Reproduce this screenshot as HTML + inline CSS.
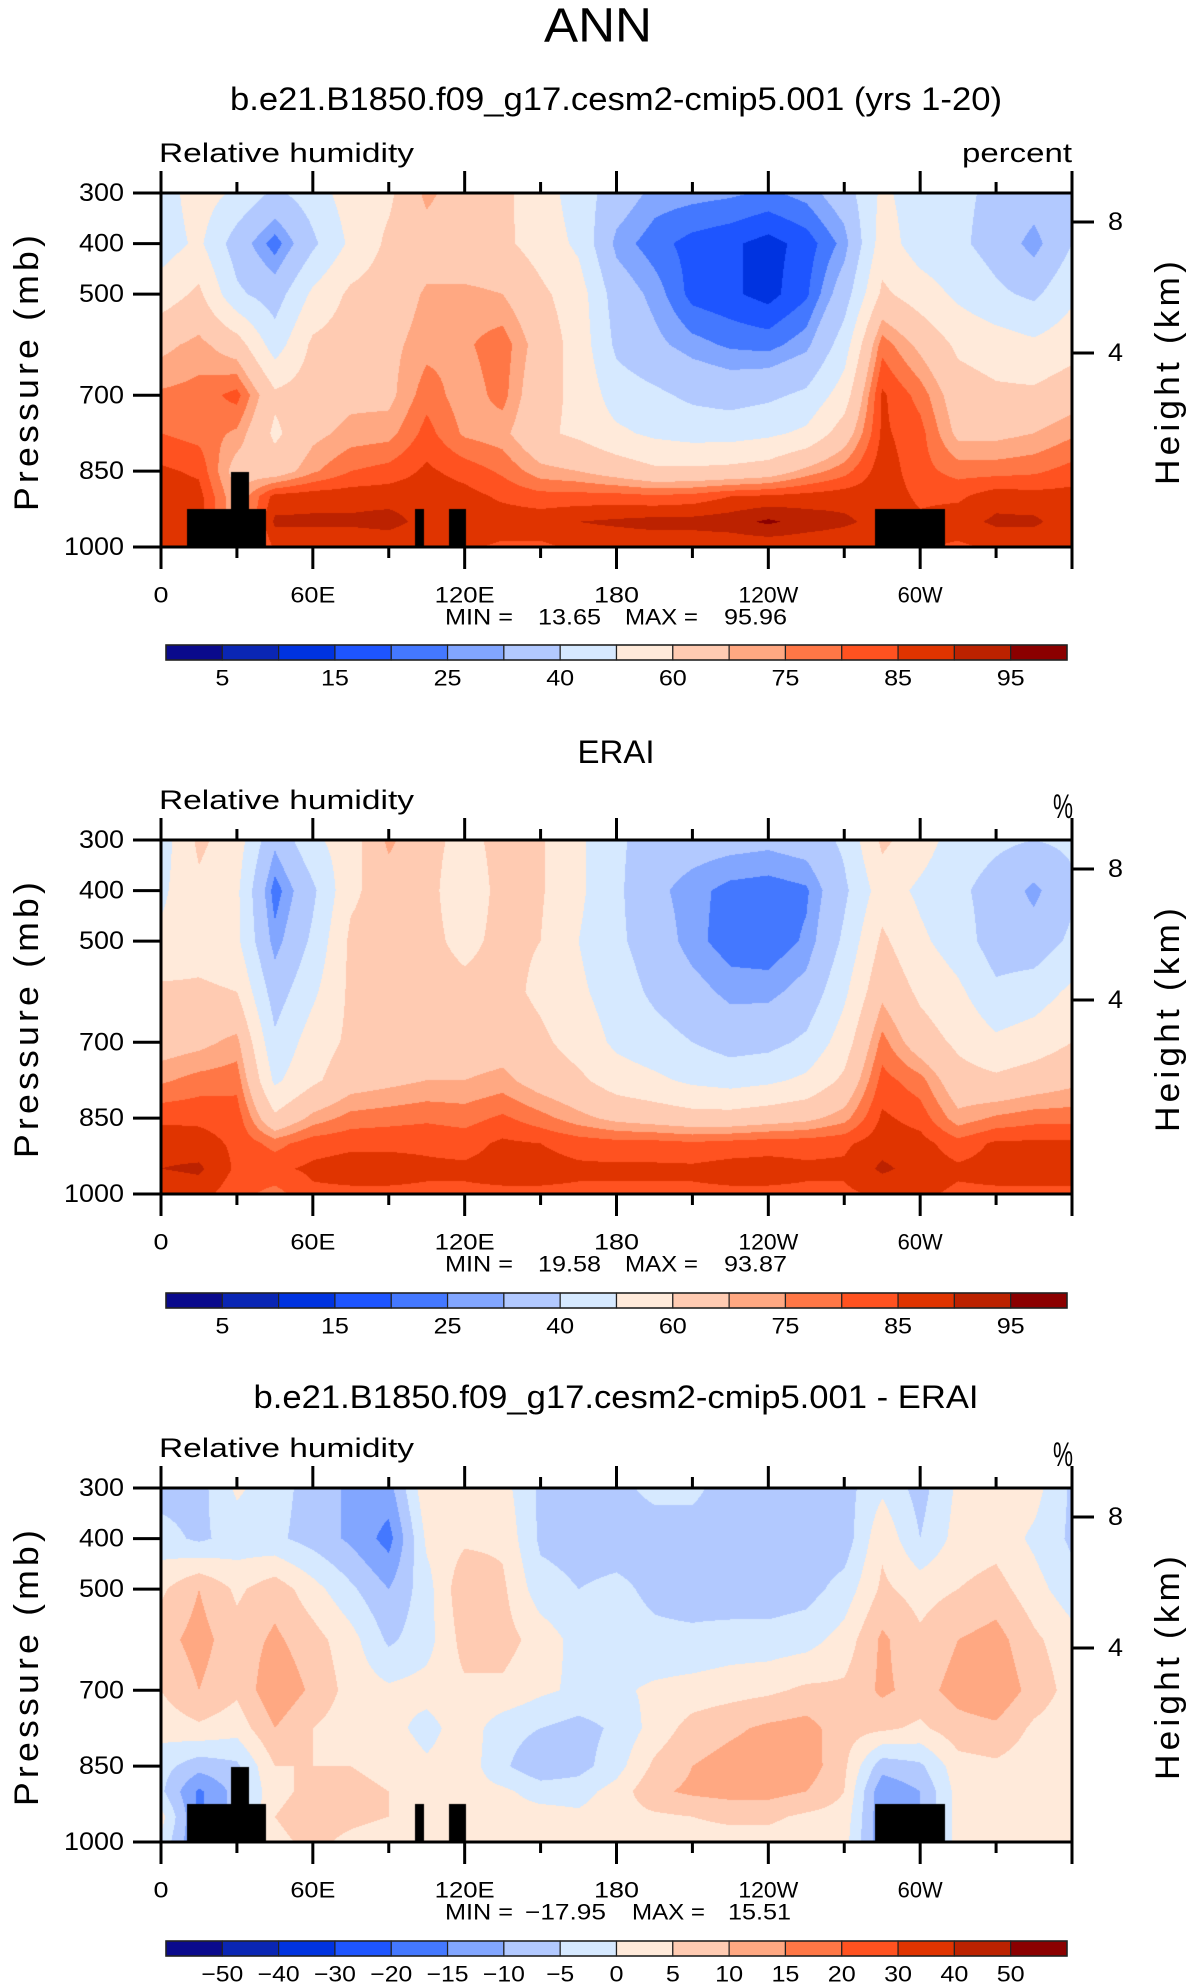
<!DOCTYPE html>
<html><head><meta charset="utf-8">
<style>
html,body{margin:0;padding:0;background:#fff;}
#root{position:relative;width:1196px;height:1987px;overflow:hidden;background:#fff;}
canvas{position:absolute;}
svg{position:absolute;left:0;top:0;}
text{font-family:"Liberation Sans",sans-serif;fill:#000;}
</style></head>
<body>
<div id="root">
<canvas id="c1" width="911" height="354" style="left:161px;top:193px"></canvas>
<canvas id="c2" width="911" height="354" style="left:161px;top:840px"></canvas>
<canvas id="c3" width="911" height="355" style="left:161px;top:1488px"></canvas>
<svg id="ov" width="1196" height="1987"></svg>
</div>
<script>
// ---- data ----
const lons = [0,15,30,45,60,75,90,105,120,135,150,165,180,195,210,225,240,255,270,285,300,315,330,345,360];
const levels = [300,400,500,600,700,775,850,900,950,1000];
const rhLevels = [5,10,15,20,25,30,40,50,60,70,75,80,85,90,95];
const diffLevels = [-50,-40,-30,-20,-15,-10,-5,0,5,10,15,20,30,40,50];
const rhTickLabels = ["","5","","15","","25","","40","","60","","75","","85","","95",""];
const xTickLabels = ["0","60E","120E","180","120W","60W"];
const yTickLabels = [300,400,500,700,850,1000];
const colors = ["#0a0a8c","#0a26b4","#0033e0","#1e55ff","#4478ff","#82a6ff","#b2c9ff","#d6e9ff","#ffeada","#ffcbb2","#ffa882","#ff7746","#ff5220","#e03400","#bc2200","#8b0000"];
// model RH: rows = lon, cols = levels (300..1000)
const modelRH = [
[45,45,55,68,76,80,86,88,88,87],
[55,52,62,72,77,78,84,87,88,87],
[48,35,42,65,82,74,66,70,70,70],
[38,22,35,45,62,58,65,87,91,86],
[45,38,52,62,65,68,74,88,91,86],
[55,52,62,65,68,72,80,88,91,86],
[58,62,65,68,68,73,82,88,92,86],
[72,66,71,73,78,82,86,88,88,86],
[65,62,72,74,72,74,83,87,88,86],
[62,62,70,78,77,72,79,84,88,84],
[55,56,62,66,63,62,72,82,88,84],
[45,48,55,56,58,58,70,82,90,86],
[35,28,35,38,45,52,66,82,91,86],
[28,22,28,32,42,48,62,81,92,86],
[27,18,18,27,38,46,62,82,92,86],
[26,16,16,24,36,46,63,85,93,86],
[24,13,13,23,38,48,65,86,96,86],
[27,17,19,28,42,52,72,87,93,86],
[35,27,35,45,55,65,78,88,91,86],
[52,55,62,78,86,86,88,88,88,88],
[45,45,55,68,78,82,82,84,86,86],
[42,42,48,58,65,68,78,84,88,84],
[38,36,42,55,62,68,78,88,91,86],
[35,27,38,52,62,70,79,87,91,86],
[40,40,48,56,66,74,82,87,87,87]];
const eraiRH = [
[45,48,52,62,66,74,84,88,90,86],
[62,58,55,62,68,77,84,87,91,87],
[55,52,52,60,72,78,83,84,84,82],
[32,22,27,35,42,48,62,78,84,78],
[48,38,42,48,55,58,72,83,86,84],
[55,58,62,62,62,66,77,84,87,84],
[72,65,64,64,64,68,78,84,87,84],
[62,62,62,63,65,70,79,84,86,84],
[58,56,58,62,65,70,78,83,86,84],
[62,62,62,63,66,72,81,86,87,84],
[61,61,60,58,62,66,77,85,87,84],
[52,52,50,52,56,62,72,83,86,84],
[42,42,42,45,48,55,68,82,86,84],
[35,32,35,38,44,52,66,82,86,84],
[34,27,27,33,40,48,64,81,86,84],
[33,23,22,28,36,46,64,82,87,84],
[32,22,21,28,37,48,66,83,87,84],
[34,24,26,33,42,52,68,83,86,84],
[42,38,42,48,55,62,73,84,86,84],
[62,55,62,68,77,82,86,88,91,86],
[55,48,52,58,65,77,83,87,88,86],
[45,42,45,52,58,64,72,82,86,84],
[42,36,35,42,52,62,76,86,87,84],
[40,28,34,45,55,65,78,86,87,84],
[42,38,42,52,60,68,78,86,87,84]];
const diffRH = [
[-7,-3,4,8,5,2,-3,-4,2,-1],
[-7,-6,10,12,10,4,-8,-16,-16,-16],
[1,-3,4,7,6,2,-6,-8,-8,-8],
[-3,-4,8,11,14,10,5,4,5,4],
[-7,-7,2,7,9,5,5,6,7,6],
[-11,-11,-4,2,3,2,5,6,6,4],
[-12,-17,-10,-6,1,2,4,5,5,3],
[4,1,-2,-2,2,-2,1,3,3,2],
[4,4,9,7,4,3,3,2,2,2],
[2,4,6,7,4,-3,-4,1,2,2],
[-6,-6,-3,3,1,-5,-9,-2,2,2],
[-7,-7,-5,-2,-1,-7,-7,-2,1,2],
[-6,-7,-4,-3,-1,-4,-2,2,3,2],
[-4,-7,-6,-4,1,2,6,9,4,2],
[-4,-7,-7,-4,2,7,10,11,5,3],
[-7,-7,-8,-3,3,9,12,12,6,3],
[-7,-8,-8,-3,4,11,13,12,6,3],
[-7,-8,-7,-2,6,12,13,10,4,2],
[-7,-8,-3,2,6,7,6,5,3,2],
[-1,4,6,11,11,6,-8,-14,-14,-14],
[-7,-5,3,6,8,4,-6,-10,-10,-10],
[1,2,5,10,12,8,3,2,2,2],
[3,3,7,12,14,9,4,3,2,2],
[2,-1,2,6,8,4,2,2,1,1],
[-6,-6,-3,2,3,2,1,1,1,1]];
// topography mask boxes: [lonStart, lonEnd, pressureTop]
const topoLon0 = [10.3,27.7,100.5,114,282];
const topoLon1 = [41.5,34.8,104,120.5,310];
const topoTop  = [925,852,925,925,925];
const statMin = ["13.65","19.58","\u221217.95"];
const statMax = ["95.96","93.87","15.51"];

// ---- layout ----
const X0=161, PW=911;
const panelTops=[193,840,1488];
const PH=354;
function xOf(lon){return X0+lon/360*PW;}
function yOf(p,top){return top+(p-300)/700*PH;}

function sample(grid,lon,p){
  let i=Math.min(lons.length-2,Math.max(0,Math.floor(lon/15)));
  let tx=(lon-lons[i])/15;
  let j=0; while(j<levels.length-2 && p>levels[j+1]) j++;
  let ty=(p-levels[j])/(levels[j+1]-levels[j]);
  ty=Math.max(0,Math.min(1,ty));
  const a=grid[i][j],b=grid[i+1][j],c=grid[i][j+1],d=grid[i+1][j+1];
  return (a*(1-tx)+b*tx)*(1-ty)+(c*(1-tx)+d*tx)*ty;
}
function cls(v,lv){let k=0;while(k<lv.length&&v>=lv[k])k++;return k;}
function hex(h){return [parseInt(h.substr(1,2),16),parseInt(h.substr(3,2),16),parseInt(h.substr(5,2),16)];}
const rgb=colors.map(hex);
function drawField(id,grid,lv,topo){
  const cv=document.getElementById(id),ctx=cv.getContext('2d');
  const W=cv.width,H=cv.height,img=ctx.createImageData(W,H);
  for(let y=0;y<H;y++){
    const p=300+(y+0.5)/PH*700;
    for(let x=0;x<W;x++){
      const lon=(x+0.5)/PW*360;
      let col=rgb[cls(sample(grid,lon,p),lv)];
      if(topo){for(let t=0;t<topoLon0.length;t++){if(lon>=topoLon0[t]&&lon<=topoLon1[t]&&p>=topoTop[t]){col=[0,0,0];break;}}}
      const o=(y*W+x)*4;img.data[o]=col[0];img.data[o+1]=col[1];img.data[o+2]=col[2];img.data[o+3]=255;
    }
  }
  ctx.putImageData(img,0,0);
}
drawField('c1',modelRH,rhLevels,true);
drawField('c2',eraiRH,rhLevels,false);
drawField('c3',diffRH,diffLevels,true);

// ---- overlay ----
const NS="http://www.w3.org/2000/svg";
const svg=document.getElementById('ov');
function el(tag,attrs,txt,parent){const e=document.createElementNS(NS,tag);for(const k in attrs)e.setAttribute(k,attrs[k]);if(txt!==undefined)e.textContent=txt;(parent||svg).appendChild(e);return e;}
function txt(s,x,y,size,anchor,len,name,extra){
  const a={x:x,y:y,'font-size':size,'text-anchor':anchor||'middle','dominant-baseline':'central'};
  if(len){a.textLength=len;a.lengthAdjust='spacingAndGlyphs';}
  if(extra)for(const k in extra)a[k]=extra[k];
  const t=el('text',a,s);
  
  
  return t;
}
txt("ANN",598,26,48,'middle',108,'figure-title',{fill:'#333'});

const titles=["b.e21.B1850.f09_g17.cesm2-cmip5.001 (yrs 1-20)","ERAI","b.e21.B1850.f09_g17.cesm2-cmip5.001 - ERAI"];
const titleY=[99,752,1397], titleLen=[772,77,725];
const cbTops=[645,1293,1941];

panelTops.forEach((top,pi)=>{
  txt(titles[pi],616,titleY[pi],32,'middle',titleLen[pi],'panel-title');
  txt("Relative humidity",159,top-40,27,'start',255,'variable-label');
  if(pi===0) txt("percent",1072,top-40,27,'end',110,'units-label');
  else txt("%",1073,top-33,34,'end',20,'units-label');
  const fr=el('rect',{x:X0,y:top,width:PW,height:PH,fill:'none',stroke:'#000','stroke-width':3});
  
  
  for(let lon=0;lon<=360;lon+=30){
    const x=xOf(lon), major=lon%60===0, L=major?22:11;
    const b=el('line',{x1:x,x2:x,y1:top+PH,y2:top+PH+L,stroke:'#000','stroke-width':3});
    
    
    const t=el('line',{x1:x,x2:x,y1:top,y2:top-L,stroke:'#000','stroke-width':3});
    
    
  }
  const xlY=top+PH+48;
  xTickLabels.forEach((s,i)=>{txt(s,xOf(i*60),xlY,22,'middle',s.length*15,'x-tick-label');});
  yTickLabels.forEach(p=>{
    const y=yOf(p,top);
    const l=el('line',{x1:X0-28,x2:X0,y1:y,y2:y,stroke:'#000','stroke-width':3});
    
    
    const s=String(p);
    txt(s,124,y,25,'end',s.length*15,'y-tick-label');
  });
  [[8,29],[4,160]].forEach(h=>{
    const y=top+h[1];
    const l=el('line',{x1:X0+PW,x2:X0+PW+22,y1:y,y2:y,stroke:'#000','stroke-width':3});
    
    
    txt(String(h[0]),1108,y,25,'start',15,'height-tick-label');
  });
  txt("Pressure (mb)",0,0,34,'middle',280,'y-axis-title',{transform:'translate(27,'+(top+178)+') rotate(-90)','letter-spacing':'4'});
  txt("Height (km)",0,0,34,'middle',228,'right-axis-title',{transform:'translate(1168,'+(top+178)+') rotate(-90)','letter-spacing':'4'});
  // stats
  const sy=top+PH+70;
  const neg = pi===2;
  txt("MIN =",445,sy,22,'start',68,'min-label');
  txt(statMin[pi],neg?606:601,sy,22,'end',neg?81:63,'min-value');
  txt("MAX =",neg?632:625,sy,22,'start',73,'max-label');
  txt(statMax[pi],neg?791:787,sy,22,'end',63,'max-value');
  // colorbar
  const cbY=cbTops[pi], cbX=166, bw=901/16;
  colors.forEach((c,i)=>{
    const r=el('rect',{x:cbX+i*bw,y:cbY,width:bw,height:15,fill:c,stroke:'#222','stroke-width':1.2});
    
    
  });
  const ob=el('rect',{x:cbX,y:cbY,width:901,height:15,fill:'none',stroke:'#222','stroke-width':1.5});
  
  
  if(pi<2){
    rhTickLabels.forEach((s,i)=>{if(s)txt(s,cbX+i*bw,cbY+33,22,'middle',s.length*14,'colorbar-label');});
  } else {
    diffLevels.forEach((v,i)=>{const s=v<0?'\u2212'+(-v):String(v);txt(s,cbX+(i+1)*bw,cbY+33,22,'middle',s.length*14,'colorbar-label');});
  }
});
</script>
</body></html>
